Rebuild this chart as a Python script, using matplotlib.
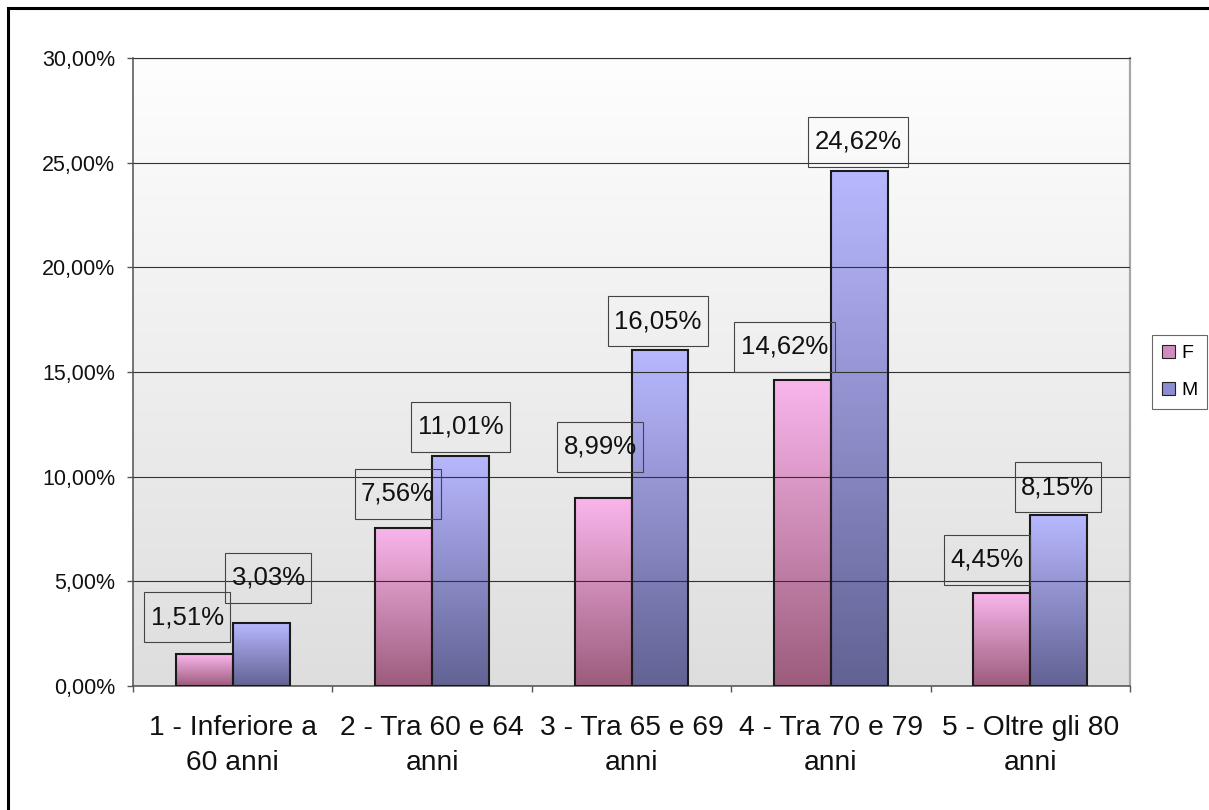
import numpy as np
import matplotlib.pyplot as plt
import matplotlib.transforms as mtransforms
from matplotlib.patches import Rectangle, Patch
from matplotlib.colors import LinearSegmentedColormap
from matplotlib.ticker import FuncFormatter, FixedLocator

plt.rcParams['font.family'] = ['Liberation Sans', 'DejaVu Sans']

# Dati: percentuale per fascia d'età e sesso
categorie = ["1 - Inferiore a\n60 anni", "2 - Tra 60 e 64\nanni", "3 - Tra 65 e 69\nanni",
             "4 - Tra 70 e 79\nanni", "5 - Oltre gli 80\nanni"]
serie = ["F", "M"]
femmine = [1.51, 7.56, 8.99, 14.62, 4.45]
maschi = [3.03, 11.01, 16.05, 24.62, 8.15]
tacche_y = [0, 5, 10, 15, 20, 25, 30]

# spostamento delle etichette in pixel: (orizzontale, distanza sopra la barra)
spost_f = [(-17, 12), (-6, 9), (-3, 26), (-18, 8), (-15, 8)]
spost_m = [(7, 20), (0, 4), (-2, 4), (-1, 4), (-1, 3)]

DPI = 100
W, H = 1209, 810
fig = plt.figure(figsize=(W / DPI, H / DPI), dpi=DPI)
ax = fig.add_axes([133 / W, 124 / H, 997 / W, 628 / H])

# colori dei gradienti (basso -> alto)
cmap_f = LinearSegmentedColormap.from_list("f", ["#9c5c7c", "#fab6ec"])
cmap_m = LinearSegmentedColormap.from_list("m", ["#626294", "#b8b8ff"])
cmap_sfondo = LinearSegmentedColormap.from_list("bg", ["#dedede", "#fefefe"])
grad = np.linspace(0, 1, 256).reshape(-1, 1)

x = np.arange(len(categorie))
larg = 1 / 3.5

# sfondo sfumato dell'area del grafico
ax.imshow(grad, extent=[-0.5, 4.5, 0, 30], origin='lower', cmap=cmap_sfondo,
          aspect='auto', zorder=0)

barre_f = ax.bar(x - larg / 2, femmine, larg, facecolor='none', edgecolor='#1a1a1a',
                 linewidth=1.5, zorder=3)
barre_m = ax.bar(x + larg / 2, maschi, larg, facecolor='none', edgecolor='#1a1a1a',
                 linewidth=1.5, zorder=3)

# riempimento a gradiente per ogni barra
for barre, cm in [(barre_f, cmap_f), (barre_m, cmap_m)]:
    for r in barre:
        x0, w, h = r.get_x(), r.get_width(), r.get_height()
        ax.imshow(grad, extent=[x0, x0 + w, 0, h], origin='lower', cmap=cm,
                  aspect='auto', zorder=2.5)

ax.set_xlim(-0.5, 4.5)
ax.set_ylim(0, 30)

# asse Y
ax.yaxis.set_major_locator(FixedLocator(tacche_y))
ax.yaxis.set_major_formatter(FuncFormatter(lambda v, p: f"{v:.2f}".replace('.', ',') + '%'))
ax.tick_params(axis='y', direction='out', length=4.3, width=1, color='#555555',
               pad=8.6, labelsize=15.5, labelcolor='#111111')
ax.yaxis.grid(True, color='#333333', linewidth=0.8)
ax.set_axisbelow(False)

# asse X: tacche ai confini, etichette al centro
ax.set_xticks(np.arange(-0.5, 5, 1))
ax.set_xticklabels([])
ax.set_xticks(x, minor=True)
ax.set_xticklabels(categorie, minor=True, fontsize=20.3, color='#111111', linespacing=1.45)
ax.tick_params(axis='x', which='major', direction='out', length=4.3, width=1, color='#555555')
ax.tick_params(axis='x', which='minor', length=0, pad=21)

for lato in ['left', 'bottom']:
    ax.spines[lato].set_color('#505050')
    ax.spines[lato].set_linewidth(1.1)
ax.spines['top'].set_color('#333333')
ax.spines['top'].set_linewidth(0.8)
ax.spines['right'].set_color('#a8a8a8')
ax.spines['right'].set_linewidth(1.6)

# etichette con riquadro
fig.canvas.draw()
rend = fig.canvas.get_renderer()
for barre, valori, spost in [(barre_f, femmine, spost_f), (barre_m, maschi, spost_m)]:
    for r, v, (dx, gap) in zip(barre, valori, spost):
        cx = r.get_x() + r.get_width() / 2
        top = r.get_height()
        cy = gap + 25  # centro del riquadro, in pixel sopra la barra
        testo = f"{v:.2f}".replace('.', ',') + '%'
        t = ax.annotate(testo, xy=(cx, top), xytext=(dx * 72 / DPI, cy * 72 / DPI),
                        textcoords='offset points', ha='center', va='center',
                        fontsize=18.5, color='#111111', zorder=5)
        bw = t.get_window_extent(rend).width + 13
        bh = 50
        tr = fig.dpi_scale_trans + mtransforms.ScaledTranslation(cx, top, ax.transData)
        box = Rectangle(((dx - bw / 2) / DPI, (cy - bh / 2) / DPI), bw / DPI, bh / DPI,
                        transform=tr, fill=False, edgecolor='#444444', linewidth=0.8,
                        zorder=5, clip_on=False)
        ax.add_artist(box)

# legenda
maniglie = [Patch(facecolor='#d08cc0', edgecolor='#222222', linewidth=0.8),
            Patch(facecolor='#8c8cd0', edgecolor='#222222', linewidth=0.8)]
fig.legend(maniglie, serie, loc='center left', bbox_to_anchor=(1152 / W, (H - 372) / H),
           fontsize=14, frameon=True, fancybox=False, edgecolor='#444444',
           handlelength=0.7, handleheight=0.7, handletextpad=0.3, borderpad=0.5,
           labelspacing=1.0, borderaxespad=0)
fig.legends[0].get_frame().set_linewidth(0.8)

# cornice esterna
fig.add_artist(Rectangle((7.5 / W, -0.1), 2, (H - 7.5) / H + 0.1, transform=fig.transFigure,
                         fill=False, edgecolor='black', linewidth=2.2, clip_on=False))

fig.savefig("out.png", dpi=DPI, facecolor='white')
